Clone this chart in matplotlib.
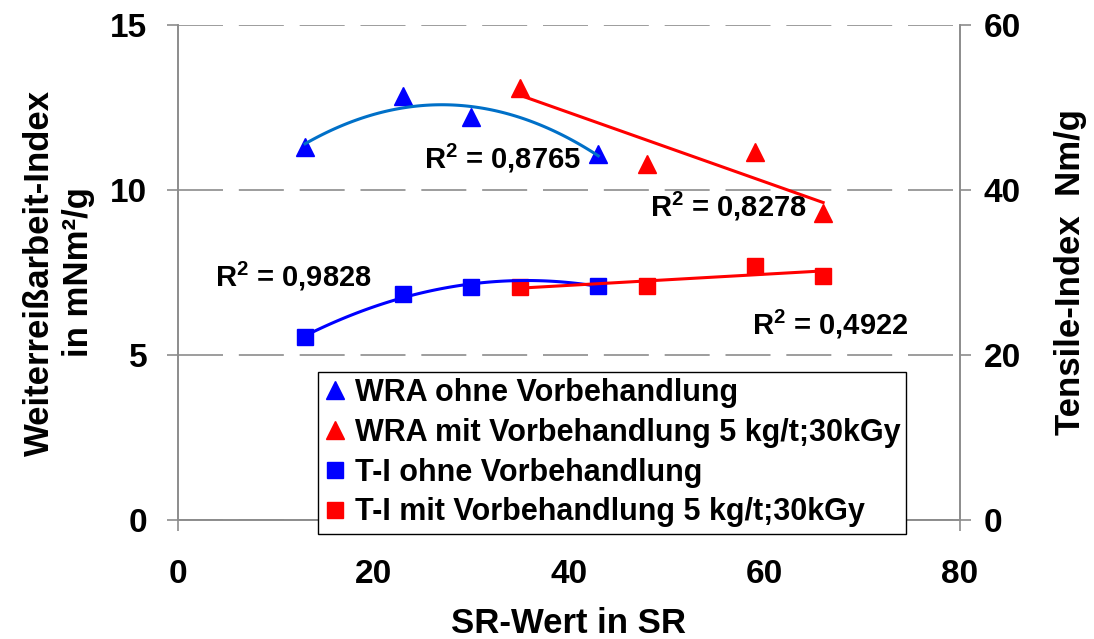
import numpy as np
import matplotlib
matplotlib.use("Agg")
import matplotlib.pyplot as plt
from matplotlib.lines import Line2D

plt.rcParams["font.family"] = ["Liberation Sans", "DejaVu Sans"]
plt.rcParams["font.weight"] = "bold"
plt.rcParams["mathtext.fontset"] = "custom"
plt.rcParams["mathtext.rm"] = "Liberation Sans:bold"
plt.rcParams["mathtext.it"] = "Liberation Sans:bold"
plt.rcParams["mathtext.bf"] = "Liberation Sans:bold"

# data
sr_ohne = [13, 23, 30, 43]
sr_mit = [35, 48, 59, 66]
wra_ohne = [11.3, 12.85, 12.2, 11.1]
wra_mit = [13.1, 10.8, 11.15, 9.3]
ti_ohne = [22.2, 27.4, 28.2, 28.4]
ti_mit = [28.2, 28.4, 30.8, 29.6]

r2_labels = ["0,8765", "0,8278", "0,9828", "0,4922"]

GREY = "#8C8C8C"
BLUE = "#0000FF"
LBLUE = "#0070C8"
RED = "#FF0000"

fig = plt.figure(figsize=(10.94, 6.39), dpi=100)
ax1 = fig.add_axes([0.1627, 0.1862, 0.7148, 0.7747])
ax2 = ax1.twinx()

# Weiterreissarbeit (left axis)
ax1.plot(sr_ohne, wra_ohne, linestyle="none", marker="^", ms=13, color=BLUE, zorder=3)
ax1.plot(sr_mit, wra_mit, linestyle="none", marker="^", ms=13, color=RED, zorder=3)

xs = np.linspace(min(sr_ohne), max(sr_ohne), 100)
ax1.plot(xs, np.polyval(np.polyfit(sr_ohne, wra_ohne, 2), xs), color=LBLUE, lw=2.2, zorder=4)
xm = np.linspace(min(sr_mit), max(sr_mit), 100)
ax1.plot(xm, np.polyval(np.polyfit(sr_mit, wra_mit, 1), xm), color=RED, lw=2.2, zorder=4)

# Tensile index (right axis)
ax2.plot(sr_ohne, ti_ohne, linestyle="none", marker="s", ms=12, color=BLUE, zorder=3)
ax2.plot(sr_mit, ti_mit, linestyle="none", marker="s", ms=12, color=RED, zorder=3)
ax2.plot(xs, np.polyval(np.polyfit(sr_ohne, ti_ohne, 2), xs), color=BLUE, lw=2.2, zorder=4)
ax2.plot(xm, np.polyval(np.polyfit(sr_mit, ti_mit, 1), xm), color=RED, lw=2.2, zorder=4)

# R^2 labels
fs_txt = 21
ax1.text(25.2, 10.95, r"R$^2$ = " + r2_labels[0], fontsize=fs_txt, fontweight="bold", va="center")
ax1.text(48.3, 9.5, r"R$^2$ = " + r2_labels[1], fontsize=fs_txt, fontweight="bold", va="center")
ax1.text(3.8, 7.38, r"R$^2$ = " + r2_labels[2], fontsize=fs_txt, fontweight="bold", va="center")
ax1.text(58.7, 5.93, r"R$^2$ = " + r2_labels[3], fontsize=fs_txt, fontweight="bold", va="center")

# axes styling
ax1.set_xlim(0, 80)
ax1.set_ylim(0, 15)
ax2.set_ylim(0, 60)
ax1.set_xticks([0, 20, 40, 60, 80])
ax1.set_yticks([0, 5, 10, 15])
ax2.set_yticks([0, 20, 40, 60])

ax1.yaxis.grid(True, linestyle=(0, (27, 9.5)), color=GREY, lw=1.2)
ax1.set_axisbelow(True)

for ax in (ax1, ax2):
    ax.spines["top"].set_visible(False)
    for side in ("left", "right", "bottom"):
        ax.spines[side].set_color(GREY)
        ax.spines[side].set_linewidth(1.2)
    ax.tick_params(colors=GREY, length=8, width=1.2, direction="out", labelsize=24, labelcolor="black")

ax1.tick_params(axis="y", pad=14)
ax1.tick_params(axis="x", pad=20)
ax2.tick_params(axis="y", pad=9)

for lab in ax1.get_xticklabels() + ax1.get_yticklabels() + ax2.get_yticklabels():
    lab.set_fontweight("bold")

ax1.set_xlabel("SR-Wert in SR", fontsize=25, fontweight="bold", labelpad=12)
ax1.set_ylabel("Weiterreißarbeit-Index\nin mNm²/g", fontsize=25, fontweight="bold",
               labelpad=11, linespacing=1.25)
ax2.set_ylabel("Tensile-Index  Nm/g", fontsize=25, fontweight="bold", labelpad=24)

handles = [
    Line2D([], [], linestyle="none", marker="^", ms=13, color=BLUE),
    Line2D([], [], linestyle="none", marker="^", ms=13, color=RED),
    Line2D([], [], linestyle="none", marker="s", ms=11, color=BLUE),
    Line2D([], [], linestyle="none", marker="s", ms=11, color=RED),
]
labels = [
    "WRA ohne Vorbehandlung",
    "WRA mit Vorbehandlung 5 kg/t;30kGy",
    "T-I ohne Vorbehandlung",
    "T-I mit Vorbehandlung 5 kg/t;30kGy",
]
leg = ax2.legend(handles, labels, loc="upper left", bbox_to_anchor=(0.179, 0.299),
                 prop={"size": 22, "weight": "bold"}, frameon=True, fancybox=False,
                 edgecolor="black", framealpha=1, handlelength=0.7, handletextpad=0.3,
                 borderpad=0.2, labelspacing=0.32, borderaxespad=0)
leg.get_frame().set_linewidth(1.0)
leg.set_zorder(10)

fig.savefig("out.png", dpi=100)
